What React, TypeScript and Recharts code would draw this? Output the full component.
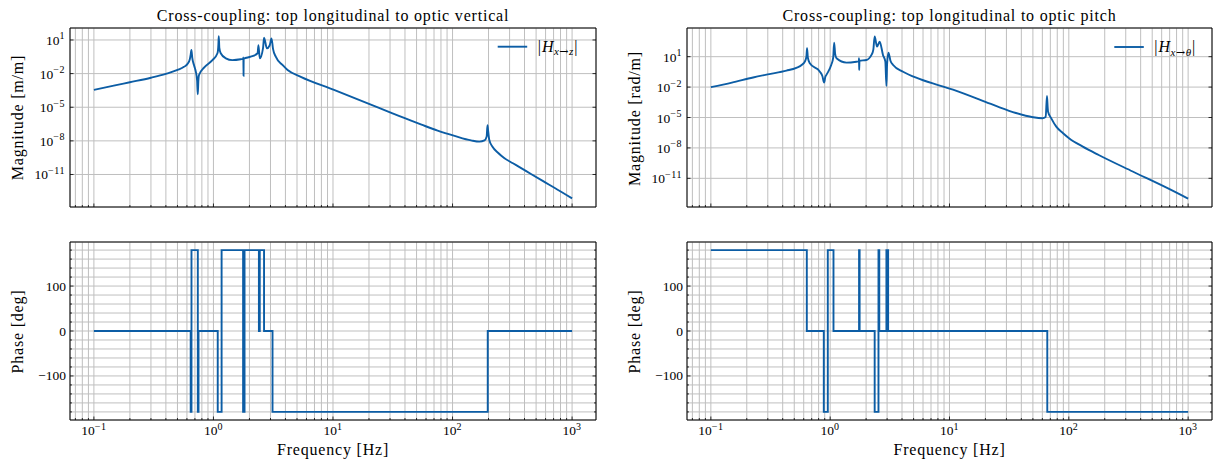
import { LineChart, Line, XAxis, YAxis, CartesianGrid } from 'recharts'

const BLUE = '#0C5DA5'
const GRID = '#bfbfbf'
const FONT = '"Liberation Serif", "Times New Roman", serif'

// frequency axis (log), majors labelled, minors only as ticks + grid
const X_DOMAIN: [number, number] = [0.0631, 1585]
const X_MAJOR = [0.1, 1, 10, 100, 1000]
const X_MINOR = [
  0.07, 0.08, 0.09, 0.2, 0.3, 0.4, 0.5, 0.6, 0.7, 0.8, 0.9, 2, 3, 4, 5, 6, 7, 8, 9,
  20, 30, 40, 50, 60, 70, 80, 90, 200, 300, 400, 500, 600, 700, 800, 900,
]
const X_TICKS = [...X_MINOR, ...X_MAJOR].sort((a, b) => a - b)

const MAG_TICKS = [1e-11, 1e-8, 1e-5, 1e-2, 1e1]
const MAG_Z_DOMAIN: [number, number] = [1.26e-14, 117]
const MAG_T_DOMAIN: [number, number] = [1.48e-14, 6760]

const PHASE_MAJOR = [-100, 0, 100]
const PHASE_TICKS = [-180, -160, -140, -120, -100, -80, -60, -40, -20, 0, 20, 40, 60, 80, 100, 120, 140, 160, 180]
const PHASE_DOMAIN: [number, number] = [-198, 198]

// |H x->z| : top longitudinal to optic vertical [m/m]
const zFreq = [
  0.1, 0.15, 0.2, 0.3, 0.4, 0.5, 0.567, 0.61, 0.635, 0.645, 0.654, 0.665, 0.69, 0.712, 0.73, 0.739,
  0.748, 0.757, 0.834, 0.98, 1.08, 1.1, 1.108, 1.12, 1.15, 1.27, 1.44, 1.69, 1.775, 1.78, 1.785,
  1.79, 2.05, 2.34, 2.38, 2.44, 2.6, 2.65, 2.8, 2.95, 3.06, 3.15, 3.32, 3.78, 4.17, 5.38, 10.2,
  20, 30, 45, 55, 75, 104, 143, 168, 185, 193, 196, 198, 203, 216, 240, 272, 320, 375, 453, 600, 717, 1000,
]
const zMag = [
  3.5e-4, 8.9e-4, 1.7e-3, 4.3e-3, 9.5e-3, 2.1e-2, 4e-2, 7.9e-2, 0.2, 0.5, 1.3, 0.25, 0.05, 1.5e-2, 2.5e-3, 1.4e-4,
  2.5e-3, 7.4e-3, 3.4e-2, 0.16, 0.65, 4, 22, 2, 0.65, 0.23, 0.16, 0.19, 0.21, 0.28, 6.3e-3,
  0.21, 0.32, 0.65, 3.5, 0.23, 2, 16, 1.8, 3.2, 14, 1.6, 0.32, 5.9e-2, 2.1e-2, 5.2e-3, 3.5e-4,
  2e-5, 3.5e-6, 6.3e-7, 2.8e-7, 8.3e-8, 2.8e-8, 1.1e-8, 8.5e-9, 1.1e-8, 2.5e-8, 2.5e-7, 1e-7, 1.2e-8, 3e-9,
  8.7e-10, 2.8e-10, 1e-10, 3.7e-11, 1.1e-11, 1.9e-12, 6.3e-13, 7.4e-14,
]
const zPhaseFreq = [
  0.1, 0.645, 0.645, 0.655, 0.655, 0.74, 0.74, 0.75, 0.75, 1.086, 1.086, 1.17, 1.17, 1.77, 1.77,
  1.82, 1.82, 2.4, 2.4, 2.44, 2.44, 2.65, 2.65, 3.12, 3.12, 197, 197, 1000,
]
const zPhase = [
  0, 0, -180, -180, 180, 180, -180, -180, 0, 0, -180, -180, 180, 180, -180,
  -180, 180, 180, 0, 0, 180, 180, 0, 0, -180, -180, 0, 0,
]

// |H x->theta| : top longitudinal to optic pitch [rad/m]
const tFreq = [
  0.1, 0.15, 0.226, 0.3, 0.43, 0.52, 0.58, 0.615, 0.632, 0.64, 0.65, 0.675, 0.82, 0.86, 0.89, 0.91,
  0.93, 1.02, 1.06, 1.08, 1.1, 1.13, 1.37, 1.66, 1.74, 1.745, 1.75, 1.76, 2.01, 2.22, 2.3, 2.36,
  2.47, 2.6, 2.77, 2.9, 2.96, 3.0, 3.08, 3.2, 3.37, 4.08, 5.6, 10.7, 20, 26.3, 36, 50,
  60, 64, 65.6, 66.5, 67, 71.3, 78.5, 89.5, 101, 131, 178, 343, 659, 1000,
]
const tMag = [
  1e-2, 2.8e-2, 8.9e-2, 0.18, 0.42, 0.8, 1.6, 3.5, 10, 68, 8, 2.2, 0.33, 0.126, 2.8e-2, 0.1,
  0.16, 1.5, 8, 240, 20, 6.9, 2.6, 3.2, 3.5, 6.9, 0.49, 4, 4.7, 15, 50, 1000,
  98, 300, 15, 3.2, 1.3e-2, 2, 25, 4, 1.5, 0.33, 6.3e-2, 5.6e-3, 3.5e-4, 1e-4, 2.8e-5, 1.07e-5,
  8.5e-6, 1.1e-5, 1.3e-3, 1e-4, 3.7e-5, 8.3e-6, 1.26e-6, 2.8e-7, 8.7e-8, 1.35e-8, 2e-9, 4.7e-11, 1.2e-12, 1e-13,
]
const tPhaseFreq = [
  0.1, 0.637, 0.637, 0.884, 0.884, 0.955, 0.955, 1.066, 1.066, 1.746, 1.746, 1.765, 1.765,
  2.36, 2.36, 2.54, 2.54, 2.58, 2.58, 2.96, 2.96, 3.06, 3.06, 66, 66, 1000,
]
const tPhase = [
  180, 180, 0, 0, -180, -180, 180, 180, 0, 0, 180, 180, 0,
  0, -180, -180, 180, 180, 0, 0, 180, 180, 0, 0, -180, -180,
]

const rows = (f: number[], v: number[]) => f.map((x, i) => ({ f: x, v: v[i] }))

const isIn = (list: number[], v: number) => list.some((m) => Math.abs(m - v) <= Math.abs(m) * 1e-9)

function expText(v: number) {
  const e = Math.round(Math.log10(v))
  return e < 0 ? `\u2212${-e}` : `${e}`
}

type Side = 'bottom' | 'top' | 'left' | 'right'

function makeTick(side: Side, majors: number[], label: 'pow' | 'num' | null) {
  return (props: any) => {
    const { x, y, payload } = props
    const v = payload.value
    const major = isIn(majors, v)
    const len = major ? 3.5 : 2
    let x2 = x
    let y2 = y
    if (side === 'bottom') y2 = y - len
    if (side === 'top') y2 = y + len
    if (side === 'left') x2 = x + len
    if (side === 'right') x2 = x - len
    let txt = null
    if (major && label === 'pow' && side === 'bottom') {
      txt = (
        <text x={x} y={y + 15} textAnchor="middle" fontFamily={FONT} fontSize={13.5} fill="#000">
          10<tspan dy={-5.5} fontSize={10} letterSpacing={0.6}>{expText(v)}</tspan>
        </text>
      )
    } else if (major && label === 'pow' && side === 'left') {
      txt = (
        <text x={x - 5} y={y + 5} textAnchor="end" fontFamily={FONT} fontSize={13.5} fill="#000">
          10<tspan dy={-5.5} fontSize={10} letterSpacing={0.6}>{expText(v)}</tspan>
        </text>
      )
    } else if (major && label === 'num' && side === 'left') {
      txt = (
        <text x={x - 4} y={y + 4.5} textAnchor="end" fontFamily={FONT} fontSize={13.5} fill="#000">
          {v < 0 ? `\u2212${-v}` : `${v}`}
        </text>
      )
    }
    return (
      <g>
        <line x1={x} y1={y} x2={x2} y2={y2} stroke="#000" strokeWidth={0.8} />
        {txt}
      </g>
    )
  }
}

interface PanelProps {
  data: { f: number; v: number }[]
  left: number
  top: number
  height: number
  margin: { top: number; right: number; bottom: number; left: number }
  yDomain: [number, number]
  yTicks: number[]
  yMajor: number[]
  yLog: boolean
  xLabels: boolean
}

// axes get a 1px size (0 hides them), margins are trimmed by 1 to compensate
function Panel({ data, left, top, height, margin, yDomain, yTicks, yMajor, yLog, xLabels }: PanelProps) {
  const axisLine = { stroke: '#000', strokeWidth: 1 }
  const m = { top: margin.top - 1, right: margin.right - 1, bottom: margin.bottom - 1, left: margin.left - 1 }
  return (
    <div style={{ position: 'absolute', left, top }}>
      <LineChart width={614} height={height} data={data} margin={m}>
        <CartesianGrid stroke={GRID} strokeWidth={1} />
        <XAxis
          dataKey="f"
          type="number"
          scale="log"
          domain={X_DOMAIN}
          allowDataOverflow
          ticks={X_TICKS}
          interval={0}
          height={1}
          tickSize={0}
          tickMargin={0}
          tickLine={false}
          axisLine={axisLine}
          tick={makeTick('bottom', X_MAJOR, xLabels ? 'pow' : null)}
        />
        <XAxis
          xAxisId="top"
          orientation="top"
          type="number"
          scale="log"
          domain={X_DOMAIN}
          allowDataOverflow
          ticks={X_TICKS}
          interval={0}
          height={1}
          tickSize={0}
          tickMargin={0}
          tickLine={false}
          axisLine={axisLine}
          tick={makeTick('top', X_MAJOR, null)}
        />
        <YAxis
          type="number"
          scale={yLog ? 'log' : 'linear'}
          domain={yDomain}
          allowDataOverflow
          ticks={yTicks}
          interval={0}
          width={1}
          tickSize={0}
          tickMargin={0}
          tickLine={false}
          axisLine={axisLine}
          tick={makeTick('left', yMajor, yLog ? 'pow' : 'num')}
        />
        <YAxis
          yAxisId="right"
          orientation="right"
          type="number"
          scale={yLog ? 'log' : 'linear'}
          domain={yDomain}
          allowDataOverflow
          ticks={yTicks}
          interval={0}
          width={1}
          tickSize={0}
          tickMargin={0}
          tickLine={false}
          axisLine={axisLine}
          tick={makeTick('right', yMajor, null)}
        />
        <Line
          dataKey="v"
          type={yLog ? 'monotoneX' : 'linear'}
          stroke={BLUE}
          strokeWidth={1.9}
          dot={false}
          isAnimationActive={false}
        />
      </LineChart>
    </div>
  )
}

function LegendEntry({ x, y, target }: { x: number; y: number; target: string }) {
  return (
    <g>
      <line x1={x} y1={y} x2={x + 29.5} y2={y} stroke={BLUE} strokeWidth={1.9} />
      <text x={x + 40} y={y + 5} fontFamily={FONT} fontSize={16} fill="#000">
        |<tspan fontStyle="italic" dx={1}>H</tspan>
        <tspan dy={3.5} fontSize={11} fontStyle="italic" dx={0.5}>x</tspan>
        <tspan fontSize={11} fontFamily="'DejaVu Serif', serif" dx={0.5}>{'\u2192'}</tspan>
        <tspan fontSize={11} fontStyle="italic" dx={0.5}>{target}</tspan>
        <tspan dy={-3.5} dx={1}>|</tspan>
      </text>
    </g>
  )
}

export default function App() {
  const txt = { fontFamily: FONT, fill: '#000', letterSpacing: 0.8 }
  return (
    <div style={{ position: 'absolute', left: 0, top: 0, width: 1228, height: 461, background: '#fff' }}>
      <Panel
        data={rows(zFreq, zMag)}
        left={0}
        top={0}
        height={230}
        margin={{ top: 28, left: 70, right: 18, bottom: 23 }}
        yDomain={MAG_Z_DOMAIN}
        yTicks={MAG_TICKS}
        yMajor={MAG_TICKS}
        yLog
        xLabels={false}
      />
      <Panel
        data={rows(zPhaseFreq, zPhase)}
        left={0}
        top={230}
        height={231}
        margin={{ top: 12, left: 70, right: 18, bottom: 41 }}
        yDomain={PHASE_DOMAIN}
        yTicks={PHASE_TICKS}
        yMajor={PHASE_MAJOR}
        yLog={false}
        xLabels
      />
      <Panel
        data={rows(tFreq, tMag)}
        left={614}
        top={0}
        height={230}
        margin={{ top: 28, left: 73, right: 16, bottom: 23 }}
        yDomain={MAG_T_DOMAIN}
        yTicks={MAG_TICKS}
        yMajor={MAG_TICKS}
        yLog
        xLabels={false}
      />
      <Panel
        data={rows(tPhaseFreq, tPhase)}
        left={614}
        top={230}
        height={231}
        margin={{ top: 12, left: 73, right: 16, bottom: 41 }}
        yDomain={PHASE_DOMAIN}
        yTicks={PHASE_TICKS}
        yMajor={PHASE_MAJOR}
        yLog={false}
        xLabels
      />
      <svg width={1228} height={461} style={{ position: 'absolute', left: 0, top: 0, pointerEvents: 'none' }}>
        <text x={333} y={20.7} textAnchor="middle" fontSize={16} {...txt}>
          Cross-coupling: top longitudinal to optic vertical
        </text>
        <text x={949.5} y={20.7} textAnchor="middle" fontSize={16} {...txt}>
          Cross-coupling: top longitudinal to optic pitch
        </text>
        <text transform="translate(23,117.5) rotate(-90)" textAnchor="middle" fontSize={16} {...txt}>
          Magnitude [m/m]
        </text>
        <text transform="translate(23,331.5) rotate(-90)" textAnchor="middle" fontSize={16} {...txt}>
          Phase [deg]
        </text>
        <text transform="translate(640,118.5) rotate(-90)" textAnchor="middle" fontSize={16} {...txt}>
          Magnitude [rad/m]
        </text>
        <text transform="translate(640,331.5) rotate(-90)" textAnchor="middle" fontSize={16} {...txt}>
          Phase [deg]
        </text>
        <text x={333} y={455} textAnchor="middle" fontSize={16} {...txt}>
          Frequency [Hz]
        </text>
        <text x={949.5} y={455} textAnchor="middle" fontSize={16} {...txt}>
          Frequency [Hz]
        </text>
        <LegendEntry x={497.7} y={46.7} target="z" />
        <LegendEntry x={1114.3} y={47} target={'\u03b8'} />
      </svg>
    </div>
  )
}
